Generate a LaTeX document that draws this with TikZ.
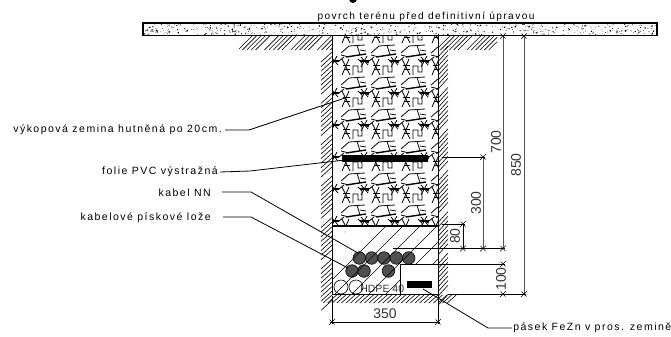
\documentclass[tikz,border=0pt]{standalone}
\usepackage{fontspec}
\setmainfont{Liberation Sans}
\newfontfamily\lab[LetterSpace=14]{Liberation Sans}
\usetikzlibrary{calc}
\definecolor{dimg}{HTML}{555555}
\definecolor{cab}{HTML}{505050}
\tikzset{
  px/.style={x=0.75pt,y=-0.75pt},
  wall/.style={line width=0.75pt,black},
  hatch/.style={line width=0.45pt,black},
  soil/.style={line width=0.6pt,black},
  soilb/.style={line width=1.05pt,black},
  dimline/.style={line width=0.6pt,dimg},
  dimblack/.style={line width=0.55pt,black},
  leader/.style={line width=0.6pt,black},
  label/.style={font=\lab\fontsize{7.9}{9}\selectfont,inner sep=0pt,text=black},
  num/.style={font=\fontsize{10.5}{12}\selectfont,inner sep=0pt,text=black!80},
  cable/.style={fill=cab,draw=black,line width=0.45pt},
  pipe/.style={draw=black,line width=0.45pt,fill=white},
}
\newcommand{\dtick}[1]{\draw[line width=0.5pt,black] ($(#1)+(-3,3)$) -- ($(#1)+(3,-3)$);\draw[line width=0.4pt,black] ($(#1)+(-2.5,-2.5)$) -- ($(#1)+(2.5,2.5)$);}
\newcommand{\soilmotif}{%
  \draw[soil] (12,20) -- (20,13) -- (36,12);
  \draw[soilb] (17,24) -- (37,21);
  \draw[soil] (28,12) -- (31,22);
  \draw[soil] (31,17) -- (37,18);
  \draw[soil] (12,22) -- (20,24);
  \draw[soilb] (1,28) -- (10,28);
  \draw[soil] (2,34) -- (8,23);
  \draw[soil] (2,24) -- (9,32);
  \draw[soil] (13,26) -- (21,42);
  \draw[soil] (20,26) -- (13,42);
  \draw[soil] (14,32) -- (21,32);
  \draw[soil] (15,36) -- (21,36);
  \draw[soil] (24,42) -- (24,33) -- (29,33) -- (29,39) -- (33,39) -- (33,30) -- (29,26);
  \draw[soil] (10,28) -- (15,24);
  \draw[soil] (33,27) -- (40,30);
}
\begin{document}
\begin{tikzpicture}[px]
\useasboundingbox (0,0) rectangle (671,336);
% cut-off mark at the top
\fill[black] (353,-1) circle (4);
% ground hatches
\begin{scope}
  \clip (239,36) rectangle (332,50);
  \foreach \i in {0,...,23}{\pgfmathtruncatemacro{\g}{mod(\i,6)}\ifnum\g=5\else\draw[hatch] (238+\i*4.4,50) -- (252+\i*4.4,36);\fi}
\end{scope}
\begin{scope}
  \clip (438,36) rectangle (497,50);
  \foreach \i in {0,...,14}{\pgfmathtruncatemacro{\g}{mod(\i,7)}\ifnum\g=6\else\draw[hatch] (436+\i*4.4,50) -- (450+\i*4.4,36);\fi}
\end{scope}
% side hatches
\foreach \i in {0,...,54}{
  \pgfmathtruncatemacro{\g}{mod(\i,9)}
  \ifnum\g=8\else
  \draw[hatch] (321,{52+\i*4.6+10}) -- (332,{52+\i*4.6});
  \draw[hatch] (438,{46+\i*4.6+11}) -- (448,{46+\i*4.6});
  \fi}
\foreach \i in {0,...,27}{\draw[hatch] (323+\i*4.6,303) -- (332+\i*4.6,295);}
% soil pattern
\begin{scope}
  \clip (332,36) rectangle (438,226);
  \foreach \r in {-1,...,6}\foreach \c in {0,1,2,3}{
    \begin{scope}[shift={(329+\c*30,33+\r*32)}]\soilmotif\end{scope}}
\end{scope}
% cables
\foreach \x/\y in {359.3/258,371.6/258,384/258,396.3/258,408.7/258,352/271,364/271,388.5/271}{\draw[cable] (\x,\y) circle (6.3);}
\foreach \x in {341,356}{\draw[pipe] (\x,287) circle (7);\fill[black] (\x,287) circle (0.4);}
% sand bed
\begin{scope}
  \clip (332,226) -- (438,226) -- (438,264) -- (400,264) -- (400,294) -- (332,294) -- cycle;
  \foreach \i in {0,...,11}{\draw[hatch] (318+\i*17,294) -- (386+\i*17,226);}
  \foreach \p in {(345,232),(372,238),(395,234),(418,240),(338,262),(392,284),(384,240),(346,248),(430,232),(378,280)}{\fill[black!45] \p circle (0.6);}
\end{scope}
\node[num,font=\fontsize{7.9}{10}\selectfont,anchor=west] (hdpe) at (360,289) {HDPE 40};
% trench outlines
\draw[wall] (332,35) -- (332,294) -- (438,294) -- (438,35);
\draw[line width=1pt] (332,226) -- (438,226);
\draw[wall] (400,294) -- (400,264);
% foil and strip
\fill[black] (342,155) rectangle (428,162);
\fill[black] (407,281) rectangle (432,288);
% road slab
\draw[line width=0.8pt,fill=white] (143,23) rectangle (657,35.5);
\pgfmathsetseed{4242}
\begin{scope}
  \clip (144,24) rectangle (656,35);
  \foreach \i in {1,...,520}{
    \pgfmathsetmacro{\xx}{144+512*rnd}
    \pgfmathsetmacro{\yy}{24+11*rnd}
    \pgfmathsetmacro{\rr}{0.3+0.75*rnd*rnd}
    \fill[black] (\xx,\yy) circle (\rr);
  }
\end{scope}
% dimension lines
\draw[dimblack] (393,248.5) -- (505,248.5);
\draw[dimblack] (400,264) -- (505,264);
\draw[dimblack] (448,294) -- (526,294);
\draw[dimblack] (442,157) -- (485,157);
\draw[dimblack] (442,224) -- (465,224);
\draw[dimline] (483,157) -- (483,248.5);
\draw[dimline] (503,36) -- (503,248.5);
\draw[dimline] (524,36) -- (524,294);
\draw[dimblack] (463,224) -- (463,248.5);
\draw[dimblack] (332,296) -- (332,324);
\draw[dimblack] (438,296) -- (438,324);
\draw[dimblack] (330,322) -- (440,322);
\foreach \p in {{503,36},{524,36},{483,157},{463,224},{463,248.5},{483,248.5},{503,248.5},{503,264},{503,294},{524,294},{332,322},{438,322}}{\dtick{\p}}
\node[num,rotate=90] (d700) at (496,142) {700};
\node[num,rotate=90] (d850) at (516,165) {850};
\node[num,rotate=90] (d300) at (476,203) {300};
\node[num,rotate=90] (d80) at (455,236) {80};
\node[num,rotate=90] (d100) at (501,279) {100};
\node[num] (d350) at (385,314) {350};
% labels
\node[label,font=\lab\fontsize{7.6}{9}\selectfont,anchor=center] (top) at (426,17) {povrch terénu před definitivní úpravou};
\node[label,anchor=east] (vyk) at (222,130) {výkopová zemina hutněná po 20cm.};
\node[label,anchor=east] (fol) at (218,172) {folie PVC výstražná};
\node[label,anchor=east] (nn) at (211,193) {kabel NN};
\fill[black!60] (218,193) circle (0.4);
\node[label,anchor=east] (loze) at (211,218) {kabelové pískové lože};
\node[label,anchor=west] (pas) at (513,328) {pásek FeZn v pros. zemině};
% leaders
\coordinate (e1) at (345,98);
\coordinate (e2) at (345,160);
\coordinate (e3) at (358,253);
\coordinate (e4) at (348,268);
\coordinate (e5) at (423,289);
\draw[leader] ($(vyk.east)+(3,0)$) -- (249,130) -- (e1);
\draw[leader] ($(fol.east)+(2,0)$) -- (250,171) -- (e2);
\draw[leader] (222,192) -- (251,192) -- (e3);
\draw[leader] (223,217) -- (251,217) -- (e4);
\draw[leader] ($(pas.west)+(-1,0)$) -- (488,328) -- (e5);
\end{tikzpicture}
\end{document}
